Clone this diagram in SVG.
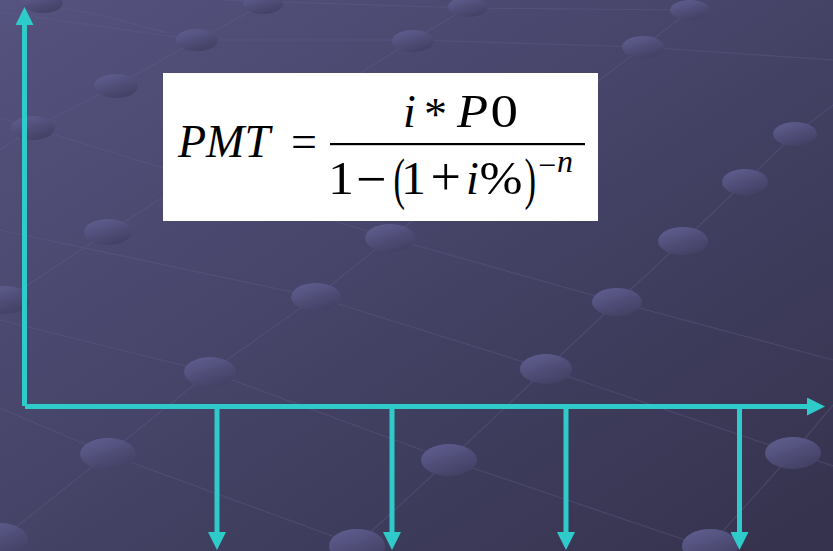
<svg xmlns="http://www.w3.org/2000/svg" width="833" height="551" viewBox="0 0 833 551">
  <defs>
    <linearGradient id="bg" x1="0" y1="0" x2="1" y2="1">
      <stop offset="0" stop-color="#55537f"/>
      <stop offset="1" stop-color="#34324c"/>
    </linearGradient>
    <linearGradient id="dot" x1="0.2" y1="0" x2="0.8" y2="1">
      <stop offset="0" stop-color="#5f5d8f"/>
      <stop offset="1" stop-color="#403e60"/>
    </linearGradient>
    <marker id="head" markerUnits="userSpaceOnUse" markerWidth="18" markerHeight="18" refX="0" refY="9" orient="auto">
      <path d="M0,0 L18,9 L0,18 Z" fill="#2fcbcb"/>
    </marker>
    <style>
      .grid { stroke: #635f8e; stroke-width: 1.2; opacity: 0.38; fill: none; }
      .dot { fill: url(#dot); }
      .ax { stroke: #2fcbcb; stroke-width: 5; fill: none; }
      .m { font-family: "Liberation Serif", "Times New Roman", serif; font-size: 46px; fill: #000; }
      .it { font-style: italic; }
      .op { font-size: 54px; }
      .par { font-size: 57px; }
      .sup { font-size: 32px; }
    </style>
  </defs>

  <g id="background">
    <rect x="0" y="0" width="833" height="551" fill="url(#bg)"/>
    <g class="grid">
      <path d="M0,150 L33,128 L116,86 L197,40 L275,-2"/>
      <path d="M0,303 L108,232 L413,40 L480,0"/>
      <path d="M0,540 L108,454 L210,372 L316,297 L390,238 L643,47 L700,3"/>
      <path d="M350,551 L449,460 L546,369 L617,302 L683,241 L745,182 L795,134 L833,105"/>
      <path d="M705,551 L793,453 L833,405"/>
      <path d="M20,0 L100,15 L167,33"/>
      <path d="M0,118 L33,128 L390,238 L617,302 L833,360"/>
      <path d="M0,230 L316,297 L546,369 L793,453 L833,466"/>
      <path d="M0,408 L108,454 L357,545 L370,551"/>
      <path d="M0,320 L210,372 L449,460 L700,545"/>
      <path d="M220,0 L470,8 L690,10"/>
      <path d="M0,12 L197,40 L413,40 L643,47 L833,60"/>
    </g>
    <g>
      <ellipse class="dot" cx="43" cy="3" rx="20" ry="10"/>
      <ellipse class="dot" cx="263" cy="4" rx="20" ry="10"/>
      <ellipse class="dot" cx="468" cy="7" rx="20" ry="10"/>
      <ellipse class="dot" cx="690" cy="10" rx="20" ry="10"/>
      <ellipse class="dot" cx="197" cy="40" rx="21" ry="11"/>
      <ellipse class="dot" cx="413" cy="41" rx="21" ry="11"/>
      <ellipse class="dot" cx="643" cy="47" rx="21" ry="11"/>
      <ellipse class="dot" cx="116" cy="86" rx="22" ry="12"/>
      <ellipse class="dot" cx="33" cy="128" rx="22" ry="12"/>
      <ellipse class="dot" cx="795" cy="134" rx="22" ry="12"/>
      <ellipse class="dot" cx="745" cy="182" rx="23" ry="13"/>
      <ellipse class="dot" cx="108" cy="232" rx="24" ry="13"/>
      <ellipse class="dot" cx="390" cy="238" rx="25" ry="14"/>
      <ellipse class="dot" cx="683" cy="241" rx="25" ry="14"/>
      <ellipse class="dot" cx="5" cy="300" rx="25" ry="14"/>
      <ellipse class="dot" cx="316" cy="297" rx="25" ry="14"/>
      <ellipse class="dot" cx="617" cy="302" rx="25" ry="14"/>
      <ellipse class="dot" cx="210" cy="372" rx="26" ry="15"/>
      <ellipse class="dot" cx="546" cy="369" rx="26" ry="15"/>
      <ellipse class="dot" cx="108" cy="454" rx="28" ry="16"/>
      <ellipse class="dot" cx="449" cy="460" rx="28" ry="16"/>
      <ellipse class="dot" cx="793" cy="453" rx="28" ry="16"/>
      <ellipse class="dot" cx="0" cy="540" rx="28" ry="17"/>
      <ellipse class="dot" cx="357" cy="546" rx="28" ry="17"/>
      <ellipse class="dot" cx="710" cy="546" rx="28" ry="17"/>
    </g>
  </g>

  <g id="formula">
    <rect x="163" y="73" width="435" height="148" fill="#ffffff"/>
    <text class="m it" x="178" y="157">PMT</text>
    <text class="m" x="291" y="157">=</text>
    <rect x="330" y="143" width="255" height="2.2" fill="#000"/>
    <text class="m it" x="403" y="127">i</text>
    <text class="m" x="424" y="130" font-size="48">*</text>
    <text class="m it" x="457" y="127" textLength="31" lengthAdjust="spacingAndGlyphs">P</text>
    <text class="m" x="490.5" y="127" textLength="27.5" lengthAdjust="spacingAndGlyphs">0</text>
    <text class="m" x="328" y="194"><tspan x="328" y="194" textLength="26" lengthAdjust="spacingAndGlyphs">1</tspan><tspan class="op" x="356" y="196.5">−</tspan><tspan class="par" x="393.5" y="197.7" textLength="11.5" lengthAdjust="spacingAndGlyphs">(</tspan><tspan x="401" y="194" textLength="25" lengthAdjust="spacingAndGlyphs">1</tspan><tspan class="op" x="430.5" y="195">+</tspan><tspan class="it" x="466" y="194">i</tspan><tspan x="479.5" y="194" textLength="43" lengthAdjust="spacingAndGlyphs">%</tspan><tspan class="par" x="524.5" y="197.7" textLength="11.5" lengthAdjust="spacingAndGlyphs">)</tspan><tspan class="sup" x="538" y="176">−</tspan><tspan class="sup it" x="557" y="172">n</tspan></text>
  </g>

  <g id="connectors">
    <line class="ax" x1="24.5" y1="406" x2="24.5" y2="25" marker-end="url(#head)"/>
    <line class="ax" x1="25" y1="406.5" x2="807" y2="406.5" marker-end="url(#head)"/>
    <line class="ax" x1="217" y1="409" x2="217" y2="532" marker-end="url(#head)"/>
    <line class="ax" x1="392" y1="409" x2="392" y2="532" marker-end="url(#head)"/>
    <line class="ax" x1="566" y1="409" x2="566" y2="532" marker-end="url(#head)"/>
    <line class="ax" x1="739.5" y1="409" x2="739.5" y2="532" marker-end="url(#head)"/>
  </g>
</svg>
